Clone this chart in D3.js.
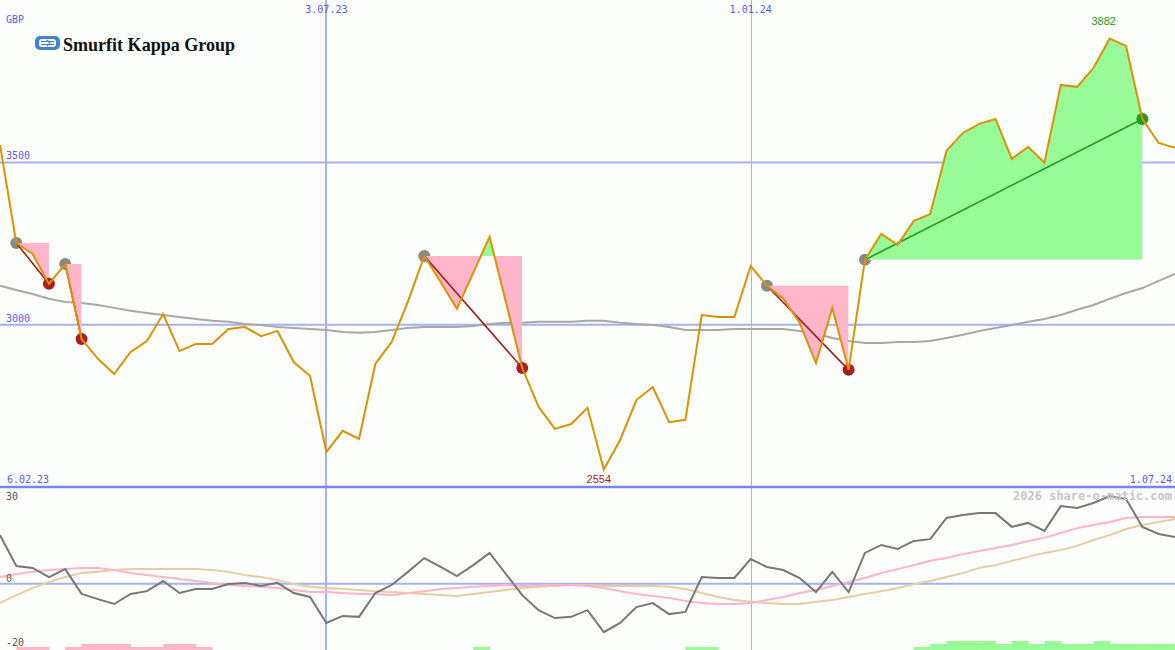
<!DOCTYPE html>
<html><head><meta charset="utf-8">
<script src="https://cdn.jsdelivr.net/npm/d3@7"></script>
<style>html,body{margin:0;padding:0;background:#fcfffc;}svg{display:block;}</style>
</head><body>
<script>
// ---------- data ----------
const price = [3554,3252,3218,3126,3187,2956,2895,2848,2916,2950,
3033,2919,2941,2941,2987,2993,2965,2981,2885,2842,
2608,2673,2648,2879,2947,3072,3212,3132,3049,3160,
3271,3070,2867,2747,2679,2694,2744,2554,2645,2768,
2808,2700,2707,3030,3024,3024,3181,3120,3080,3006,
2882,3052,2861,3200,3280,3246,3320,3341,3536,3591,
3619,3634,3511,3548,3499,3739,3733,3791,3882,3859,
3634,3560,3545];
const movingAvg = [3120,3107,3095,3080,3070,3067,3061,3052,3043,3036,
3030,3024,3018,3012,3009,3002,2999,2993,2990,2987,
2984,2978,2975,2978,2984,2990,2993,2993,2993,2996,
3002,3006,3006,3009,3009,3009,3012,3012,3006,3002,
2999,2993,2984,2984,2984,2987,2987,2987,2987,2981,
2972,2959,2950,2944,2944,2947,2947,2950,2959,2969,
2981,2990,2999,3009,3018,3030,3046,3061,3080,3098,
3113,3135,3157];
const momentum = [15.9,5.8,5.2,2.2,4.8,-3.3,-5.0,-6.6,-3.3,-2.4,
0.9,-3.0,-1.7,-1.7,-0.1,0.3,-0.7,0.3,-3.0,-4.3,
-12.8,-10.5,-10.8,-3.0,-0.4,3.9,8.4,5.5,2.5,6.1,
10.1,3.2,-3.7,-8.6,-11.2,-10.8,-8.6,-15.8,-12.8,-7.6,
-6.3,-9.9,-9.2,2.2,1.9,1.9,8.1,5.5,4.5,1.9,
-2.7,3.9,-2.7,10.1,12.7,11.4,14.0,14.6,21.5,22.5,
23.1,23.1,18.6,19.9,17.3,25.4,24.8,26.4,28.7,27.7,
18.6,16.3,15.3];
const signalFast = [2.2,3.2,3.9,4.5,4.8,5.2,5.2,4.5,3.5,2.9,
2.2,1.6,0.9,0.3,-0.4,-0.7,-1.0,-1.4,-2.0,-2.7,
-2.7,-3.0,-3.3,-3.3,-3.7,-3.0,-2.4,-1.7,-1.4,-1.0,
-0.7,-0.4,-0.7,-0.7,-0.4,-0.4,-0.7,-1.4,-2.4,-3.3,
-4.0,-4.6,-5.6,-6.3,-6.6,-6.6,-6.3,-5.3,-4.3,-3.0,
-2.0,-0.7,0.6,1.9,3.5,4.8,6.1,7.5,8.4,9.7,
10.7,11.7,12.7,14.0,15.0,16.6,18.2,19.2,20.2,21.5,
21.8,21.8,21.8];
const signalSlow = [-6.3,-3.7,-1.4,0.6,2.2,3.5,3.9,4.5,4.8,4.8,
4.8,4.8,4.8,4.5,3.9,2.9,2.2,1.2,-0.1,-1.0,
-1.4,-1.7,-2.0,-2.4,-2.7,-3.0,-3.3,-3.7,-4.0,-3.3,
-2.7,-2.0,-1.4,-1.0,-0.7,-0.4,-0.4,-0.7,-0.7,-0.7,
-0.7,-1.0,-1.7,-3.0,-4.3,-5.3,-5.9,-6.3,-6.6,-6.6,
-5.9,-5.3,-4.3,-3.3,-2.4,-1.4,-0.1,0.9,2.2,3.5,
5.2,6.1,7.5,8.8,10.1,11.0,12.4,14.3,15.9,17.9,
19.2,20.2,21.2];
// bar level per interval i -> i+1 (negative = pink, positive = green)
const barLevels = [0,-1,-1,0,-1,-2,-2,-2,-1,-1,
-2,-2,-1,0,0,0,0,0,0,0,
0,0,0,0,0,0,0,0,0,1,
0,0,0,0,0,0,0,0,0,0,
0,0,1,1,0,0,0,0,0,0,
0,0,0,0,0,0,1,2,3,3,
3,2,3,2,3,2,2,3,2,2,
2,2];
const patterns = [{s:1,e:3},{s:4,e:5},{s:26,e:32},{s:47,e:52},{s:53,e:70}];
const dateLabels = ["6.02.23","3.07.23","1.01.24","1.07.24"];
const dateIdx = [0,20,46,72];
const priceTicks = [3500,3000];
const indTicks = [30,0,-20];
const minLabel = "2554", maxLabel = "3882";

// ---------- setup ----------
const W=1175,H=650;
const svg=d3.select("body").append("svg").attr("width",W).attr("height",H);
svg.append("rect").attr("width",W).attr("height",H).attr("fill","#fcfffc");
const x=d3.scaleLinear().domain([0,price.length-1]).range([0,W]);
const yP=d3.scaleLinear().domain([2554,3882]).range([469.5,38.5]);
const yI=d3.scaleLinear().domain([-20,30]).range([645,492]);
const barH=d3.scaleLinear().domain([0,3]).range([0,9]);
const mono="'DejaVu Sans Mono', monospace";
const blue="#5a5af0", grid="#a4b2f2";

const defs=svg.append("defs");
defs.append("clipPath").attr("id","mainClip").append("rect").attr("x",0).attr("y",0).attr("width",W).attr("height",486);
defs.append("clipPath").attr("id","lowClip").append("rect").attr("x",0).attr("y",488).attr("width",W).attr("height",162);

// gridlines
svg.selectAll(".pg").data(priceTicks).join("line")
 .attr("x1",0).attr("x2",W).attr("y1",d=>yP(d)).attr("y2",d=>yP(d))
 .attr("stroke",grid).attr("stroke-width",2);
svg.append("line").attr("x1",0).attr("x2",W).attr("y1",yI(0)).attr("y2",yI(0)).attr("stroke",grid).attr("stroke-width",2);
// vertical date lines
svg.selectAll(".vl").data([1,2]).join("line")
 .attr("x1",d=>Math.round(x(dateIdx[d]))+(d===1?0:0.5)).attr("x2",d=>Math.round(x(dateIdx[d]))+(d===1?0:0.5))
 .attr("y1",0).attr("y2",H).attr("stroke",grid).attr("stroke-width",d=>d===1?2:1);
// separator
svg.append("line").attr("x1",0).attr("x2",W).attr("y1",487).attr("y2",487).attr("stroke","#7686ea").attr("stroke-width",2.5);

// ---------- main panel ----------
const main=svg.append("g").attr("clip-path","url(#mainClip)");
// moving average
main.append("path").datum(movingAvg)
 .attr("d",d3.line().x((d,i)=>x(i)).y(d=>yP(d)))
 .attr("fill","none").attr("stroke","#a8a8a8").attr("stroke-width",2);

// start circles
main.selectAll(".sc").data(patterns).join("circle")
 .attr("cx",d=>x(d.s)).attr("cy",d=>yP(price[d.s])).attr("r",6).attr("fill","#888");

// fills
patterns.forEach((p,k)=>{
  const lvl=yP(price[p.s]);
  const idx=d3.range(p.s,p.e+1);
  const ar=d3.area().x(i=>x(i)).y0(lvl).y1(i=>yP(price[i]));
  const cb=defs.append("clipPath").attr("id","cb"+k);
  cb.append("rect").attr("x",x(p.s)).attr("y",lvl).attr("width",x(p.e)-x(p.s)).attr("height",500);
  const ca=defs.append("clipPath").attr("id","ca"+k);
  ca.append("rect").attr("x",x(p.s)).attr("y",0).attr("width",x(p.e)-x(p.s)).attr("height",lvl);
  main.append("path").datum(idx).attr("d",ar).attr("fill","#ffb6cb").attr("clip-path","url(#cb"+k+")");
  main.append("path").datum(idx).attr("d",ar).attr("fill","#98fb98").attr("clip-path","url(#ca"+k+")");
});
// connecting lines
main.selectAll(".cl").data(patterns).join("line")
 .attr("x1",d=>x(d.s)).attr("y1",d=>yP(price[d.s])).attr("x2",d=>x(d.e)).attr("y2",d=>yP(price[d.e]))
 .attr("stroke",d=>price[d.e]<price[d.s]?"#a01a1a":"#229922").attr("stroke-width",1.6);
// end circles
main.selectAll(".ec").data(patterns).join("circle")
 .attr("cx",d=>x(d.e)).attr("cy",d=>yP(price[d.e])).attr("r",6)
 .attr("fill",d=>price[d.e]<price[d.s]?"#a81e1e":"#229922");
// price line
main.append("path").datum(price)
 .attr("d",d3.line().x((d,i)=>x(i)).y(d=>yP(d)))
 .attr("fill","none").attr("stroke","#dc9200").attr("stroke-width",2).attr("stroke-linejoin","miter");

// ---------- lower panel ----------
const low=svg.append("g").attr("clip-path","url(#lowClip)");
low.selectAll(".bar").data(barLevels).join("rect")
 .attr("x",(d,i)=>x(i)).attr("width",(d,i)=>x(i+1)-x(i)+0.5)
 .attr("y",d=>H-barH(Math.abs(d))).attr("height",d=>barH(Math.abs(d)))
 .attr("fill",d=>d<0?"#ffb6cb":"#98fb98");
const lineI=d3.line().x((d,i)=>x(i)).y(d=>yI(d));
low.append("path").datum(signalSlow).attr("d",lineI).attr("fill","none").attr("stroke","#e6cda0").attr("stroke-width",2);
low.append("path").datum(signalFast).attr("d",lineI).attr("fill","none").attr("stroke","#ffb4c8").attr("stroke-width",2);
low.append("path").datum(momentum).attr("d",lineI).attr("fill","none").attr("stroke","#777").attr("stroke-width",2);

// ---------- text ----------
svg.append("text").attr("x",6).attr("y",23).text("GBP").attr("font-family",mono).attr("font-size",10).attr("fill",blue);
svg.selectAll(".pt").data(priceTicks).join("text")
 .attr("x",6).attr("y",d=>yP(d)-3).text(d=>d).attr("font-family",mono).attr("font-size",10).attr("fill",blue);
// top date labels
svg.selectAll(".td").data([1,2]).join("text")
 .attr("x",d=>x(dateIdx[d])).attr("y",13).attr("text-anchor","middle").text(d=>dateLabels[d])
 .attr("font-family",mono).attr("font-size",10).attr("fill",blue);
svg.append("text").attr("x",7).attr("y",483).text(dateLabels[0]).attr("font-family",mono).attr("font-size",10).attr("fill",blue);
svg.append("text").attr("x",W-3).attr("y",483).attr("text-anchor","end").text(dateLabels[3]).attr("font-family",mono).attr("font-size",10).attr("fill",blue);
// min / max
const iMin=price.indexOf(d3.min(price)), iMax=price.indexOf(d3.max(price));
svg.append("text").attr("x",x(iMin)-5).attr("y",483).attr("text-anchor","middle").text(minLabel)
 .attr("font-family","'Liberation Sans', Arial, sans-serif").attr("font-size",11).attr("fill","#a81e1e");
svg.append("text").attr("x",x(iMax)-6).attr("y",25).attr("text-anchor","middle").text(maxLabel)
 .attr("font-family","'Liberation Sans', Arial, sans-serif").attr("font-size",11).attr("fill","#229922");
// indicator labels
const indY={30:500,0:582,"-20":646};
svg.selectAll(".it").data(indTicks).join("text")
 .attr("x",6).attr("y",d=>indY[d]).text(d=>d).attr("font-family",mono).attr("font-size",10).attr("fill","#555");
// watermark
svg.append("text").attr("x",W-3).attr("y",500).attr("text-anchor","end").text("2026 share-o-matic.com")
 .attr("font-family",mono).attr("font-size",12).attr("font-weight","bold").attr("fill","#c6c6c6");

// logo
const logo=svg.append("g");
logo.append("rect").attr("x",35).attr("y",36).attr("width",25).attr("height",14).attr("rx",5).attr("fill","#3d82d4");
logo.append("rect").attr("x",39).attr("y",39).attr("width",17).attr("height",8).attr("rx",3).attr("fill","#fff");
logo.append("path").attr("d","M41,41.5 H54 M41,44.5 H54 M47,40 L50,43 L47,46").attr("stroke","#3d82d4").attr("stroke-width",1.2).attr("fill","none");
logo.append("text").attr("x",63).attr("y",51).text("Smurfit Kappa Group")
 .attr("font-family","'Liberation Serif', 'DejaVu Serif', serif").attr("font-weight","bold").attr("font-size",19)
 .attr("textLength",172).attr("lengthAdjust","spacingAndGlyphs").attr("fill","#111");
</script>
</body></html>
